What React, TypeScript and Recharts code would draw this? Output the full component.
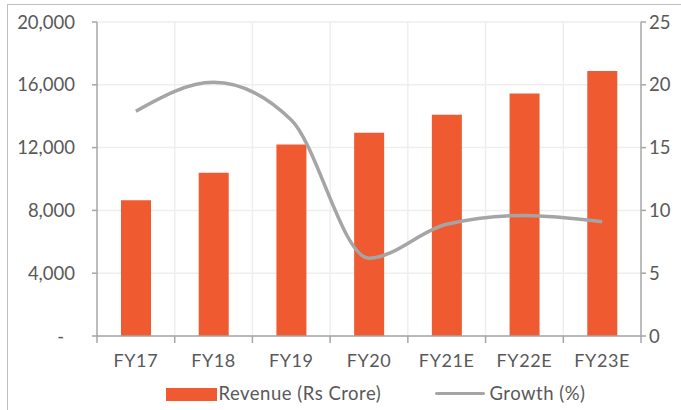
import React from "react";
import {
  ComposedChart,
  Bar,
  Line,
  XAxis,
  YAxis,
  CartesianGrid,
  Legend,
} from "recharts";

const categories = ["FY17", "FY18", "FY19", "FY20", "FY21E", "FY22E", "FY23E"];
const revenue = [8650, 10400, 12200, 12950, 14100, 15450, 16880];
const growth = [17.9, 20.2, 17.2, 6.2, 8.9, 9.6, 9.1];
const leftTicks = [0, 4000, 8000, 12000, 16000, 20000];
const rightTicks = [0, 5, 10, 15, 20, 25];
const seriesNames = { revenue: "Revenue (Rs Crore)", growth: "Growth (%)" };

const data = categories.map((c, i) => ({
  name: c,
  revenue: revenue[i],
  growth: growth[i],
}));

const FONT = "Lato, 'Open Sans', sans-serif";
const TEXT = "#595959";
const AXIS = "#a6a6a6";
const GRID = "#eeeeee";
const BAR = "#F05A30";
const LINE = "#a5a5a5";

const CHART_W = 680;
const CHART_H = 406;
const LEFT_W = 89;
const RIGHT_W = 47;
const PLOT_W = CHART_W - LEFT_W - RIGHT_W;
const BAND = PLOT_W / categories.length;
const FS = 18;

const fmt = (v: number) => (v === 0 ? "-" : v.toLocaleString("en-US"));

const LeftTick = (props: any) => {
  const { x, y, payload } = props;
  const v = payload.value as number;
  return (
    <text
      x={v === 0 ? x - 11 : x}
      y={y}
      dy="0.36em"
      textAnchor="end"
      fill={TEXT}
      fontSize={18.5}
      fontFamily={FONT}
    >
      {fmt(v)}
    </text>
  );
};

const RightTick = (props: any) => {
  const { x, y, payload } = props;
  return (
    <text
      x={x}
      y={y}
      dy="0.36em"
      textAnchor="start"
      fill={TEXT}
      fontSize={18.5}
      fontFamily={FONT}
    >
      {payload.value}
    </text>
  );
};

const XTick = (props: any) => {
  const { x, y, payload, index } = props;
  const last = index === categories.length - 1;
  return (
    <g>
      <line x1={x - BAND / 2} x2={x - BAND / 2} y1={y - 7} y2={y} stroke={AXIS} strokeWidth={1.5} />
      {last && (
        <line x1={x + BAND / 2} x2={x + BAND / 2} y1={y - 7} y2={y} stroke={AXIS} strokeWidth={1.5} />
      )}
      <text
        x={x}
        y={y + 24}
        textAnchor="middle"
        fill={TEXT}
        fontSize={FS}
        letterSpacing={0.6}
        fontFamily={FONT}
      >
        {payload.value}
      </text>
    </g>
  );
};

const LegendContent = () => (
  <div style={{ position: "relative", width: CHART_W, height: 30, fontFamily: FONT, fontSize: 18.5, letterSpacing: "0.5px", color: TEXT }}>
    <div style={{ position: "absolute", left: 157.5, top: 6.5, width: 51, height: 13.5, background: BAR }} />
    <div style={{ position: "absolute", left: 210.5, top: 1, lineHeight: "22px", whiteSpace: "nowrap" }}>
      {seriesNames.revenue}
    </div>
    <div style={{ position: "absolute", left: 426.5, top: 11.3, width: 50, height: 3, background: LINE, borderRadius: 2 }} />
    <div style={{ position: "absolute", left: 481.5, top: 1, lineHeight: "22px", whiteSpace: "nowrap" }}>
      {seriesNames.growth}
    </div>
  </div>
);

export default function App() {
  return (
    <div
      style={{
        position: "absolute",
        left: 7,
        top: 4,
        width: 700,
        height: 420,
        borderLeft: "1.5px solid #bfbfbf",
        borderTop: "1.5px solid #bfbfbf",
        background: "#fff",
      }}
    >
      <ComposedChart
        width={CHART_W}
        height={CHART_H}
        data={data}
        margin={{ top: 17, right: 0, bottom: 0, left: 0 }}
      >
        <CartesianGrid
          stroke={GRID}
          strokeWidth={1.5}
          horizontalValues={leftTicks}
          yAxisId="left"
          verticalCoordinatesGenerator={({ offset }: any) =>
            categories.slice(1).map((_, i) => offset.left + (offset.width / categories.length) * (i + 1))
          }
        />
        <XAxis
          dataKey="name"
          height={45}
          tickLine={false}
          tickSize={7}
          tickMargin={0}
          interval={0}
          axisLine={{ stroke: AXIS, strokeWidth: 1.5 }}
          tick={<XTick />}
        />
        <YAxis
          yAxisId="left"
          orientation="left"
          width={LEFT_W}
          domain={[0, 20000]}
          ticks={leftTicks}
          tickSize={5}
          tickMargin={17}
          axisLine={{ stroke: AXIS, strokeWidth: 1.5 }}
          tickLine={{ stroke: AXIS, strokeWidth: 1.5 }}
          tick={<LeftTick />}
        />
        <YAxis
          yAxisId="right"
          orientation="right"
          width={RIGHT_W}
          domain={[0, 25]}
          ticks={rightTicks}
          tickSize={5}
          tickMargin={3}
          axisLine={{ stroke: AXIS, strokeWidth: 1.5 }}
          tickLine={{ stroke: AXIS, strokeWidth: 1.5 }}
          tick={<RightTick />}
        />
        <Legend
          verticalAlign="bottom"
          height={30}
          content={<LegendContent />}
          wrapperStyle={{ left: 0, width: CHART_W, height: 30 }}
        />
        <Bar
          yAxisId="left"
          dataKey="revenue"
          name={seriesNames.revenue}
          fill={BAR}
          barSize={30}
          isAnimationActive={false}
        />
        <Line
          yAxisId="right"
          dataKey="growth"
          name={seriesNames.growth}
          type="monotone"
          stroke={LINE}
          strokeWidth={3.5}
          dot={false}
          isAnimationActive={false}
        />
      </ComposedChart>
    </div>
  );
}
